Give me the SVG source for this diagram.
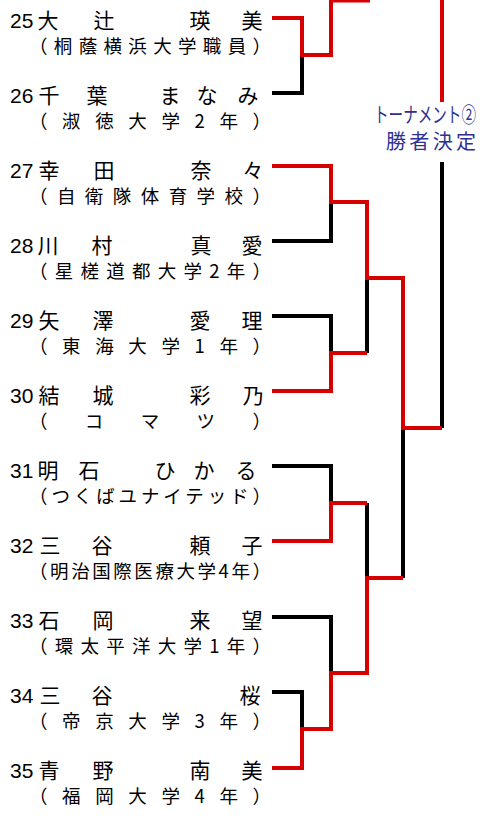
<svg xmlns="http://www.w3.org/2000/svg" width="480" height="826" viewBox="0 0 480 826">
<style>
.num{font-family:"Liberation Sans",Arial,sans-serif;font-size:21px;fill:#000}
.name{font-family:"Noto Sans CJK JP","Noto Sans CJK SC",sans-serif;font-size:21px;fill:#000;text-anchor:middle}
.aff{font-family:"Noto Sans CJK JP","Noto Sans CJK SC",sans-serif;font-size:18.5px;fill:#000}
.ttl{font-family:"Noto Sans CJK JP","Noto Sans CJK SC",sans-serif;font-size:21px;fill:#2e3192}
.ttl2{font-family:"Noto Sans CJK JP","Noto Sans CJK SC",sans-serif;font-size:20px;fill:#2e3192}
.r{stroke:#d70000;stroke-width:4;fill:none;stroke-linejoin:miter}
.k{stroke:#000;stroke-width:4;fill:none;stroke-linejoin:miter}
</style>
<rect width="480" height="826" fill="#fff"/>
<g id="connectors">
  <polyline class="k" points="272,93 302,93 302,55"/>
  <line class="k" x1="442" y1="162" x2="442" y2="428"/>
  <polyline class="k" points="272,241 331,241 331,202"/>
  <polyline class="k" points="272,316 331,316 331,353"/>
  <line class="k" x1="367" y1="353" x2="367" y2="278"/>
  <polyline class="k" points="272,466 331,466 331,503"/>
  <line class="k" x1="367" y1="503" x2="367" y2="578"/>
  <line class="k" x1="403" y1="428" x2="403" y2="578"/>
  <polyline class="k" points="272,617 331,617 331,673"/>
  <polyline class="k" points="272,692 302,692 302,729"/>
  <polyline class="r" points="272,18 302,18 302,55 331,55 331,0.5 368,0.5 368,-10"/>
  <line class="r" x1="442" y1="-10" x2="442" y2="102"/>
  <polyline class="r" points="272,166 331,166 331,202 367,202 367,278 403,278 403,428 442,428"/>
  <polyline class="r" points="272,391 331,391 331,353 367,353"/>
  <polyline class="r" points="272,541 331,541 331,503 367,503"/>
  <polyline class="r" points="403,578 367,578 367,673 331,673 331,729 302,729 302,768 272,768"/>
</g>
<g id="label">
  <text class="ttl" transform="translate(374,122) scale(0.694,1)">トーナメント②</text>
  <text class="ttl2" x="386" y="148.5" textLength="90" lengthAdjust="spacing">勝者決定</text>
</g>
<g id="p25">
  <text class="num" x="10" y="28">25</text>
  <text class="name" x="48 104 200 252" y="28">大辻瑛美</text>
  <text class="aff" x="29" y="53" textLength="242" lengthAdjust="spacing">（桐蔭横浜大学職員）</text>
</g>
<g id="p26">
  <text class="num" x="10" y="103">26</text>
  <text class="name" x="49 97 170 207 248" y="103">千葉まなみ</text>
  <text class="aff" x="29" y="128" textLength="242" lengthAdjust="spacing">（淑徳大学2年）</text>
</g>
<g id="p27">
  <text class="num" x="10" y="178">27</text>
  <text class="name" x="49 104 201 253" y="178">幸田奈々</text>
  <text class="aff" x="29" y="203" textLength="242" lengthAdjust="spacing">（自衛隊体育学校）</text>
</g>
<g id="p28">
  <text class="num" x="10" y="253">28</text>
  <text class="name" x="48 102 201 252" y="253">川村真愛</text>
  <text class="aff" x="29" y="278" textLength="242" lengthAdjust="spacing">（星槎道都大学2年）</text>
</g>
<g id="p29">
  <text class="num" x="10" y="328">29</text>
  <text class="name" x="49 103 200 252" y="328">矢澤愛理</text>
  <text class="aff" x="29" y="353" textLength="242" lengthAdjust="spacing">（東海大学1年）</text>
</g>
<g id="p30">
  <text class="num" x="10" y="403">30</text>
  <text class="name" x="49 103 200 253" y="403">結城彩乃</text>
  <text class="aff" x="29" y="428" textLength="242" lengthAdjust="spacing">（コマツ）</text>
</g>
<g id="p31">
  <text class="num" x="10" y="478">31</text>
  <text class="name" x="48 89 165 204 246" y="478">明石ひかる</text>
  <text class="aff" x="29" y="503" textLength="242" lengthAdjust="spacing">（つくばユナイテッド）</text>
</g>
<g id="p32">
  <text class="num" x="10" y="553">32</text>
  <text class="name" x="50 102 200 252" y="553">三谷頼子</text>
  <text class="aff" x="29" y="578" textLength="242" lengthAdjust="spacing">（明治国際医療大学4年）</text>
</g>
<g id="p33">
  <text class="num" x="10" y="628">33</text>
  <text class="name" x="49 103 200 252" y="628">石岡来望</text>
  <text class="aff" x="29" y="653" textLength="242" lengthAdjust="spacing">（環太平洋大学1年）</text>
</g>
<g id="p34">
  <text class="num" x="10" y="703">34</text>
  <text class="name" x="50 102 250" y="703">三谷桜</text>
  <text class="aff" x="29" y="728" textLength="242" lengthAdjust="spacing">（帝京大学3年）</text>
</g>
<g id="p35">
  <text class="num" x="10" y="778">35</text>
  <text class="name" x="49 103 200 252" y="778">青野南美</text>
  <text class="aff" x="29" y="803" textLength="242" lengthAdjust="spacing">（福岡大学4年）</text>
</g>
</svg>
